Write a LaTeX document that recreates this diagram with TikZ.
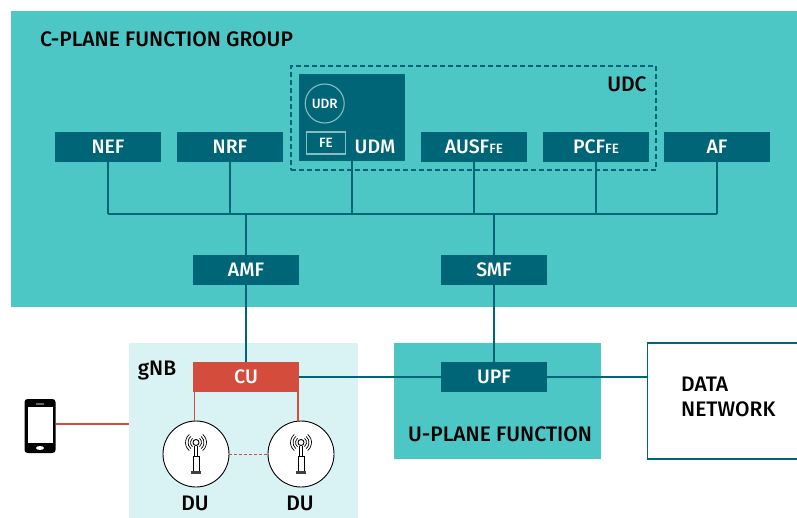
\documentclass[tikz,border=0pt]{standalone}
\usepackage{fontspec}
\setmainfont{Fira Sans Medium}
\usetikzlibrary{shapes.geometric}
\definecolor{tealbg}{HTML}{4DC6C6}
\definecolor{tealdark}{HTML}{006577}
\definecolor{paleblue}{HTML}{D9F2F3}
\definecolor{cured}{HTML}{D44C3C}
\newcommand{\smalltext}{\fontsize{13.5}{15}\selectfont}
\begin{document}
\begin{tikzpicture}[x=1pt, y=-1pt, font=\fontsize{19.5}{22}\selectfont,
    area/.style={draw=none, rectangle, inner sep=0pt},
    func/.style={rectangle, fill=tealdark, text=white, minimum width=106pt, minimum height=30pt, inner sep=0pt},
    label/.style={inner sep=0pt, text=black, font=\fontsize{21}{24}\selectfont},
    du/.style={draw=black, fill=white, circle, minimum size=66pt, line width=0.9pt, inner sep=0pt},
    n/.style={tealdark, line width=1.1pt},
    r/.style={cured, line width=1.2pt},
    mast/.pic={
        \draw[black, line width=0.8pt] (-1.3,-8) -- (-1.3,2) (1.3,-8) -- (1.3,2);
        \draw[black, line width=0.8pt, fill=white] (-3,2) rectangle (3,18);
        \fill[black!75] (-5,17) rectangle (5,20);
        \draw[black, line width=0.9pt] (0,-11.5) circle (3);
        \foreach \rad in {5.5,8,10.5}{
            \draw[black, line width=0.7pt] (-50:\rad) ++(0,-11.5) arc (-50:50:\rad);
            \draw[black, line width=0.7pt] (130:\rad) ++(0,-11.5) arc (130:230:\rad);
        }
    }]
    \useasboundingbox (0,0) rectangle (797,518);
    % areas
    \fill[tealbg] (11,11) rectangle (797,307);
    \node[area, fill=paleblue, minimum width=229pt, minimum height=175pt] (gNB) at (243.5,430.5) {};
    \node[area, fill=tealbg, minimum width=207pt, minimum height=116pt] (Uplane) at (497.5,401) {};
    \node[area, draw=tealdark, fill=white, line width=1.2pt, minimum width=160pt, minimum height=116pt] (DN) at (727.5,401) {};
    \node[area, draw=tealdark, dash pattern=on 5pt off 3pt, line width=1.4pt, minimum width=365pt, minimum height=104pt] (UDC) at (473.5,118) {};
    % functions
    \node[func] (NEF) at (108,147) {NEF};
    \node[func] (NRF) at (230,147) {NRF};
    \node[func, minimum height=87pt] (UDM) at (352,117.5) {};
    \node[func] (AUSF) at (474,147) {AUSF{\smalltext FE}};
    \node[func] (PCF) at (596,147) {PCF{\smalltext FE}};
    \node[func] (AF) at (717,147) {AF};
    \node[func] (AMF) at (246,270) {AMF};
    \node[func] (SMF) at (494,270) {SMF};
    \node[func] (UPF) at (494,377) {UPF};
    \node[func, fill=cured] (CU) at (246,377) {CU};
    % inside UDM
    \node[draw=white!55!tealdark, circle, line width=1.1pt, minimum size=39pt, inner sep=0pt, text=white, font=\smalltext] (UDR) at (324.7,103.5) {UDR};
    \node[draw=white!55!tealdark, rectangle, line width=1.1pt, minimum width=39pt, minimum height=22pt, inner sep=0pt, text=white, font=\smalltext] (FE) at (326,143) {FE};
    \node[inner sep=0pt, text=white] (UDMtext) at (375,147) {UDM};
    % labels
    \node[label, anchor=west] (title) at (40,39) {C-PLANE FUNCTION GROUP};
    \node[label] (UDCtext) at (627,84) {UDC};
    \node[label] (gNBtext) at (157,371) {gNB};
    \node[label] (Uplanetext) at (500,434) {U-PLANE FUNCTION};
    \node[label, anchor=west] (DNa) at (681,384) {DATA};
    \node[label, anchor=west] (DNb) at (681,409) {NETWORK};
    % edges
    \coordinate (busL) at (108,214);
    \coordinate (busR) at (717,214);
    \draw[n] (busL) -- (busR);
    \foreach \f in {NEF,NRF,UDM,AUSF,PCF,AF}
        \draw[n] (\f.south) -- (\f.south |- busL);
    \draw[n] (AMF.north |- busL) -- (AMF.north);
    \draw[n] (SMF.north |- busL) -- (SMF.north);
    \draw[n] (AMF) -- (CU);
    \draw[n] (SMF) -- (UPF);
    \draw[n] (CU) -- (UPF);
    \draw[n] (UPF) -- (UPF -| DN.west);
    % radio part
    \node[du] (DUa) at (196,454) {};
    \node[du] (DUb) at (301,454) {};
    \draw[r] ([xshift=1.3pt]CU.south west) -- ([xshift=1.3pt]CU.south west |- DUa.north);
    \draw[r] ([xshift=-1.3pt]CU.south east) -- ([xshift=-1.3pt]CU.south east |- DUb.north);
    \draw[r, line width=0.9pt, dash pattern=on 3pt off 2pt] (DUa) -- (DUb);
    \pic at (DUa.center) {mast};
    \pic at (DUb.center) {mast};
    \node[label] (DUatext) at (195,503) {DU};
    \node[label] (DUbtext) at (300,503) {DU};
    % phone
    \node[rectangle, fill=black, rounded corners=3pt, minimum width=31pt, minimum height=54pt, inner sep=0pt] (phone) at (40,426) {};
    \node[rectangle, fill=white, minimum width=25pt, minimum height=36pt, inner sep=0pt] (screen) at (40,425) {};
    \node[ellipse, fill=white, minimum width=8pt, minimum height=4pt, inner sep=0pt] (homekey) at (40,448) {};
    \fill[black!60] (36,403) rectangle (44,404.5);
    \draw[r] (phone.east |- 0,424) -- (gNB.west |- 0,424);
\end{tikzpicture}
\end{document}
